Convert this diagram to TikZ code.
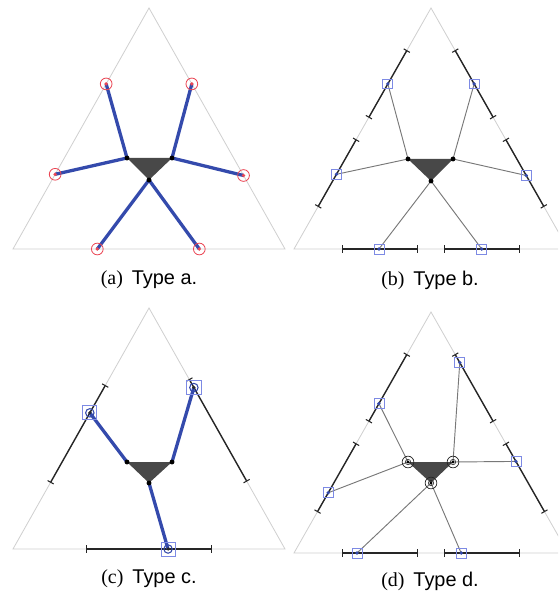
\documentclass[tikz,border=0pt]{standalone}
\usepackage{fontspec}
\setmainfont{Liberation Serif}
\newfontfamily\capsans{Liberation Sans}
\usetikzlibrary{calc,arrows.meta}
\definecolor{EdgeGray}{RGB}{208,208,208}
\definecolor{PathBlue}{RGB}{52,74,172}
\definecolor{MarkRed}{RGB}{234,70,84}
\definecolor{BoxBlue}{RGB}{125,138,228}
\definecolor{CoreGray}{RGB}{72,72,72}
\definecolor{WireGray}{RGB}{120,120,120}
\definecolor{RangeBlack}{RGB}{38,38,38}

\begin{document}
\begin{tikzpicture}[x=0.03cm, y=-0.03cm, every node/.style={font=\fontsize{17}{20}\selectfont}]
\tikzset{
  edgeframe/.style={EdgeGray, line width=0.7pt},
  corefill/.style={fill=CoreGray},
  thickpath/.style={PathBlue, line width=2.8pt},
  thinpath/.style={WireGray, line width=0.8pt},
  spanbar/.style={RangeBlack, line width=1.2pt, {Bar[width=6pt,line width=0.9pt]}-{Bar[width=6pt,line width=0.9pt]}},
  vdot/.style={circle, fill=black, inner sep=0pt, minimum size=4.2pt},
  redring/.style={circle, draw=MarkRed, line width=0.7pt, inner sep=0pt, minimum size=10pt,
    path picture={\fill[MarkRed] (path picture bounding box.center) circle (1.6pt);}},
  bluebox/.style={rectangle, draw=BoxBlue, line width=0.7pt, inner sep=0pt, minimum size=8.5pt,
    path picture={\fill[PathBlue] (path picture bounding box.center) circle (1.6pt);}},
  bigbox/.style={rectangle, draw=BoxBlue, line width=0.7pt, inner sep=0pt, minimum size=12pt,
    path picture={\draw[PathBlue, line width=0.9pt] (path picture bounding box.center) circle (3.6pt);
                  \fill[RangeBlack] (path picture bounding box.center) circle (1.5pt);}},
  vring/.style={circle, draw=RangeBlack, line width=0.6pt, inner sep=0pt, minimum size=10pt,
    path picture={\draw[RangeBlack, line width=0.5pt] (path picture bounding box.center) circle (2.3pt);
                  \fill[black] (path picture bounding box.center) circle (1.3pt);}},
  captext/.style={inner sep=0pt}
}
\clip (0,0) rectangle (558,598);

\begin{scope}[shift={(149,8)}]
  \coordinate (a0) at (0,0);
  \coordinate (abl) at (-136,241);
  \coordinate (abr) at (136,241);
  \draw[edgeframe] (a0) -- (abl) -- (abr) -- cycle;
  \coordinate (al) at (-22,150);
  \coordinate (ar) at (23,150);
  \coordinate (ab) at (0,172);
  \fill[corefill] (al) -- (ar) -- (ab) -- cycle;
  \coordinate (a1) at ($(a0)!0.315!(abl)$);
  \coordinate (a2) at ($(a0)!0.69!(abl)$);
  \coordinate (a3) at ($(a0)!0.315!(abr)$);
  \coordinate (a4) at ($(a0)!0.695!(abr)$);
  \coordinate (a5) at ($(abl)!0.31!(abr)$);
  \coordinate (a6) at ($(abl)!0.685!(abr)$);
  \draw[thickpath] (al) -- (a1);
  \draw[thickpath] (al) -- (a2);
  \draw[thickpath] (ar) -- (a3);
  \draw[thickpath] (ar) -- (a4);
  \draw[thickpath] (ab) -- (a5);
  \draw[thickpath] (ab) -- (a6);
  \node[vdot] (alv) at (al) {};
  \node[vdot] (arv) at (ar) {};
  \node[vdot] (abv) at (ab) {};
  \node[redring] (a1m) at (a1) {};
  \node[redring] (a2m) at (a2) {};
  \node[redring] (a3m) at (a3) {};
  \node[redring] (a4m) at (a4) {};
  \node[redring] (a5m) at (a5) {};
  \node[redring] (a6m) at (a6) {};
  \node[captext] (acap) at (0,272) {(a)\hspace{0.45em}{\capsans Type a.}};
\end{scope}

\begin{scope}[shift={(431,8)}]
  \coordinate (b0) at (0,0);
  \coordinate (bbl) at (-137,241);
  \coordinate (bbr) at (137,241);
  \draw[edgeframe] (b0) -- (bbl) -- (bbr) -- cycle;
  \draw[spanbar] ($(b0)!0.175!(bbl)$) -- ($(b0)!0.455!(bbl)$);
  \draw[spanbar] ($(b0)!0.545!(bbl)$) -- ($(b0)!0.825!(bbl)$);
  \draw[spanbar] ($(b0)!0.175!(bbr)$) -- ($(b0)!0.455!(bbr)$);
  \draw[spanbar] ($(b0)!0.545!(bbr)$) -- ($(b0)!0.825!(bbr)$);
  \draw[spanbar] ($(bbl)!0.175!(bbr)$) -- ($(bbl)!0.452!(bbr)$);
  \draw[spanbar] ($(bbl)!0.548!(bbr)$) -- ($(bbl)!0.825!(bbr)$);
  \coordinate (bl) at (-23,151);
  \coordinate (br) at (22,151);
  \coordinate (bb) at (0,173);
  \fill[corefill] (bl) -- (br) -- (bb) -- cycle;
  \coordinate (b1) at ($(b0)!0.315!(bbl)$);
  \coordinate (b2) at ($(b0)!0.69!(bbl)$);
  \coordinate (b3) at ($(b0)!0.315!(bbr)$);
  \coordinate (b4) at ($(b0)!0.695!(bbr)$);
  \coordinate (b5) at ($(bbl)!0.31!(bbr)$);
  \coordinate (b6) at ($(bbl)!0.685!(bbr)$);
  \draw[thinpath] (bl) -- (b1);
  \draw[thinpath] (bl) -- (b2);
  \draw[thinpath] (br) -- (b3);
  \draw[thinpath] (br) -- (b4);
  \draw[thinpath] (bb) -- (b5);
  \draw[thinpath] (bb) -- (b6);
  \node[vdot] (blv) at (bl) {};
  \node[vdot] (brv) at (br) {};
  \node[vdot] (bbv) at (bb) {};
  \node[bluebox] (b1m) at (b1) {};
  \node[bluebox] (b2m) at (b2) {};
  \node[bluebox] (b3m) at (b3) {};
  \node[bluebox] (b4m) at (b4) {};
  \node[bluebox] (b5m) at (b5) {};
  \node[bluebox] (b6m) at (b6) {};
  \node[captext] (bcap) at (-1,272) {(b)\hspace{0.45em}{\capsans Type b.}};
\end{scope}

\begin{scope}[shift={(149,308)}]
  \coordinate (c0) at (0,0);
  \coordinate (cbl) at (-136,241);
  \coordinate (cbr) at (136,241);
  \draw[edgeframe] (c0) -- (cbl) -- (cbr) -- cycle;
  \draw[spanbar] ($(c0)!0.32!(cbl)$) -- ($(c0)!0.725!(cbl)$);
  \draw[spanbar] ($(c0)!0.295!(cbr)$) -- ($(c0)!0.72!(cbr)$);
  \draw[spanbar] ($(cbl)!0.27!(cbr)$) -- ($(cbl)!0.73!(cbr)$);
  \coordinate (cl) at (-22,154);
  \coordinate (cr) at (23,154);
  \coordinate (cb) at (0,175);
  \fill[corefill] (cl) -- (cr) -- (cb) -- cycle;
  \coordinate (c1) at ($(c0)!0.435!(cbl)$);
  \coordinate (c2) at ($(c0)!0.33!(cbr)$);
  \coordinate (c3) at ($(cbl)!0.57!(cbr)$);
  \draw[thickpath] (cl) -- (c1);
  \draw[thickpath] (cr) -- (c2);
  \draw[thickpath] (cb) -- (c3);
  \node[vdot] (clv) at (cl) {};
  \node[vdot] (crv) at (cr) {};
  \node[vdot] (cbv) at (cb) {};
  \node[bigbox] (c1m) at (c1) {};
  \node[bigbox] (c2m) at (c2) {};
  \node[bigbox] (c3m) at (c3) {};
  \node[captext] (ccap) at (0,271) {(c)\hspace{0.45em}{\capsans Type c.}};
\end{scope}

\begin{scope}[shift={(431,312)}]
  \coordinate (d0) at (0,0);
  \coordinate (dbl) at (-137,241);
  \coordinate (dbr) at (137,241);
  \draw[edgeframe] (d0) -- (dbl) -- (dbr) -- cycle;
  \draw[spanbar] ($(d0)!0.175!(dbl)$) -- ($(d0)!0.455!(dbl)$);
  \draw[spanbar] ($(d0)!0.545!(dbl)$) -- ($(d0)!0.83!(dbl)$);
  \draw[spanbar] ($(d0)!0.175!(dbr)$) -- ($(d0)!0.455!(dbr)$);
  \draw[spanbar] ($(d0)!0.545!(dbr)$) -- ($(d0)!0.83!(dbr)$);
  \draw[spanbar] ($(dbl)!0.175!(dbr)$) -- ($(dbl)!0.452!(dbr)$);
  \draw[spanbar] ($(dbl)!0.548!(dbr)$) -- ($(dbl)!0.825!(dbr)$);
  \coordinate (dl) at (-23,150);
  \coordinate (dr) at (22,150);
  \coordinate (db) at (0,171);
  \fill[corefill] (dl) -- (dr) -- (db) -- cycle;
  \coordinate (d1) at ($(d0)!0.38!(dbl)$);
  \coordinate (d2) at ($(d0)!0.75!(dbl)$);
  \coordinate (d3) at ($(d0)!0.21!(dbr)$);
  \coordinate (d4) at ($(d0)!0.62!(dbr)$);
  \coordinate (d5) at ($(dbl)!0.23!(dbr)$);
  \coordinate (d6) at ($(dbl)!0.61!(dbr)$);
  \draw[thinpath] (dl) -- (d1);
  \draw[thinpath] (dl) -- (d2);
  \draw[thinpath] (dr) -- (d3);
  \draw[thinpath] (dr) -- (d4);
  \draw[thinpath] (db) -- (d5);
  \draw[thinpath] (db) -- (d6);
  \node[vring] (dlv) at (dl) {};
  \node[vring] (drv) at (dr) {};
  \node[vring] (dbv) at (db) {};
  \node[bluebox] (d1m) at (d1) {};
  \node[bluebox] (d2m) at (d2) {};
  \node[bluebox] (d3m) at (d3) {};
  \node[bluebox] (d4m) at (d4) {};
  \node[bluebox] (d5m) at (d5) {};
  \node[bluebox] (d6m) at (d6) {};
  \node[captext] (dcap) at (-1,269) {(d)\hspace{0.45em}{\capsans Type d.}};
\end{scope}
\end{tikzpicture}
\end{document}
